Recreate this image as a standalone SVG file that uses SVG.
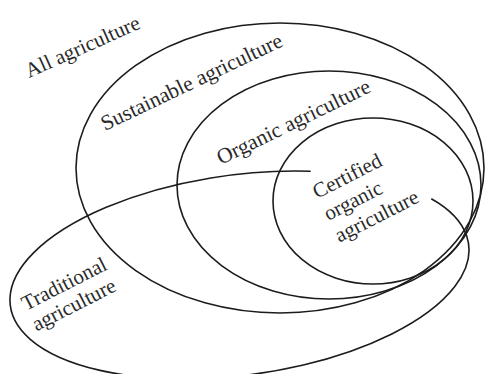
<svg xmlns="http://www.w3.org/2000/svg" width="486" height="374" viewBox="0 0 486 374">
<style>
.ring{fill:none;stroke:#1c1c1c;stroke-width:1.6}
.lbl{font-family:"Liberation Serif","Times New Roman",serif;font-size:21px;fill:#2a2a2a}
.big{font-size:21.6px}
</style>
<rect width="486" height="374" fill="#ffffff"/>
<g id="all-agriculture">
<text class="lbl" x="29" y="78" transform="rotate(-24 29 78)">All agriculture</text>
</g>
<g id="sustainable-agriculture">
<ellipse class="ring" cx="280" cy="168" rx="204" ry="145"/>
<text class="lbl big" x="105" y="131" transform="rotate(-25.5 105 131)">Sustainable agriculture</text>
</g>
<g id="organic-agriculture">
<ellipse class="ring" cx="329" cy="185" rx="152" ry="114"/>
<text class="lbl big" x="221" y="165" transform="rotate(-26 221 165)">Organic agriculture</text>
</g>
<g id="certified-organic-agriculture">
<ellipse class="ring" cx="373" cy="201" rx="100" ry="83"/>
<text class="lbl" transform="rotate(-27 317 199)"><tspan x="317" y="199">Certified</tspan><tspan x="317" y="223.6">organic</tspan><tspan x="317" y="248.2">agriculture</tspan></text>
</g>
<g id="traditional-agriculture">
<path class="ring" d="M 310.7 171.3 A 231.2 100.2 -7.66 1 0 431.3 198.7"/>
<text class="lbl" transform="rotate(-27 26 311)"><tspan x="26" y="311">Traditional</tspan><tspan x="26" y="334">agriculture</tspan></text>
</g>
<g id="connectors"/>
</svg>
